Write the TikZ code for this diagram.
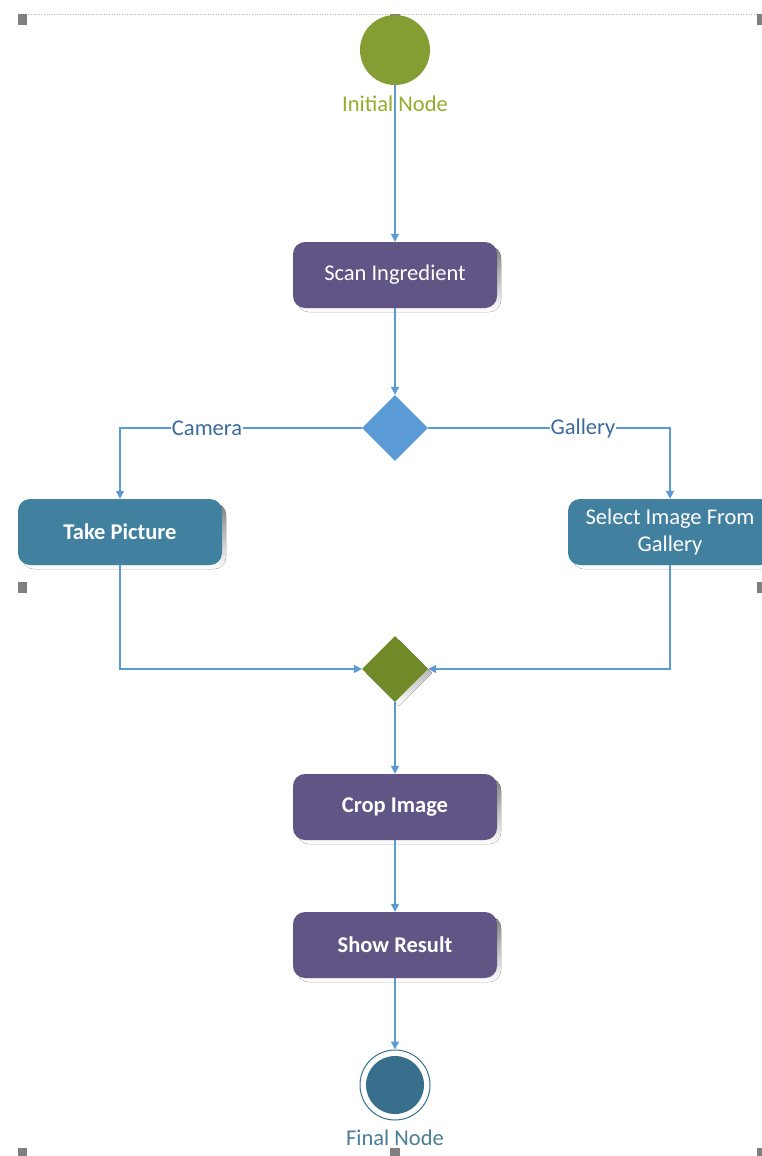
\documentclass[tikz,border=0pt]{standalone}
\usepackage{fontspec}
\setmainfont{Carlito}
\usetikzlibrary{arrows.meta,shapes.geometric}
\definecolor{flow}{HTML}{5B9BD5}
\definecolor{actpurple}{HTML}{615586}
\definecolor{actteal}{HTML}{41809F}
\definecolor{startgreen}{HTML}{849E33}
\definecolor{mergegreen}{HTML}{6F8A27}
\definecolor{endteal}{HTML}{376F8C}
\definecolor{guardblue}{HTML}{3B6A9C}
\definecolor{handle}{HTML}{7F7F7F}
\definecolor{shade}{HTML}{F5F7F6}
\newcommand{\labelfont}{\fontsize{22.5}{27}\selectfont}
\tikzset{
  act/.style={rounded corners=12pt, minimum width=204pt, minimum height=66pt,
    text=white, font=\labelfont, align=center, inner sep=0pt},
  purplebox/.style={act, fill=actpurple},
  tealbox/.style={act, fill=actteal},
  decision/.style={diamond, minimum width=66pt, minimum height=66pt, inner sep=0pt, aspect=1},
  flowline/.style={draw=flow, line width=1.4pt, -{Triangle[length=8pt,width=8pt]}},
  guard/.style={fill=white, text=guardblue, inner sep=1pt, font=\labelfont},
  grip/.style={fill=handle, draw=none},
}
\begin{document}
\begin{tikzpicture}[x=1pt,y=-1pt]
\useasboundingbox (0,0) rectangle (762,1156);
\clip (0,0) rectangle (762,1156);
\fill[white] (0,0) rectangle (762,1156);

% page frame and selection grips
\draw[handle!60, dotted, line width=0.6pt] (18,14) -- (762,14);
\fill[grip] (18,14) rectangle (27,25);
\fill[grip] (390,14) rectangle (400,25);
\fill[grip] (757,14) rectangle (762,25);
\fill[grip] (18,582) rectangle (27,593);
\fill[grip] (757,582) rectangle (762,593);
\fill[grip] (18,1148) rectangle (27,1156);
\fill[grip] (390,1148) rectangle (400,1156);
\fill[grip] (757,1148) rectangle (762,1156);

% soft shadows under the action boxes
\fill[shade, rounded corners=12pt] (297,246) rectangle (501,312);
\fill[shade, rounded corners=12pt] (22,503) rectangle (226,569);
\fill[shade, rounded corners=12pt] (572,503) rectangle (776,569);
\fill[shade, rounded corners=12pt] (297,778) rectangle (501,844);
\fill[shade, rounded corners=12pt] (297,916) rectangle (501,982);
\fill[shade] (399,640) -- (432,673) -- (399,706) -- (366,673) -- cycle;

% nodes
\node[circle, fill=startgreen, minimum size=70pt, inner sep=0pt] (start) at (395,50) {};
\node[text=startgreen!85!yellow, font=\labelfont] (startlbl) at (395,104) {Initial Node};
\node[purplebox] (scan) at (395,275) {Scan Ingredient};
\node[decision, fill=flow] (split) at (395,428) {};
\node[tealbox, font=\labelfont\bfseries] (take) at (120,532) {Take Picture};
\node[tealbox] (gallery) at (670,532) {Select Image From\\Gallery};
\node[decision, fill=mergegreen] (merge) at (395,669) {};
\node[purplebox, font=\labelfont\bfseries] (crop) at (395,807) {Crop Image};
\node[purplebox, font=\labelfont\bfseries] (show) at (395,945) {Show Result};
\node[circle, draw=endteal, line width=1pt, minimum size=70pt, inner sep=0pt] (final) at (395,1085) {};
\fill[endteal] (final.center) circle (29pt);
\node[text=endteal!90!white, font=\labelfont] (finallbl) at (395,1138) {Final Node};

% connectors
\draw[flowline] (start) -- (scan);
\draw[flowline] (scan) -- (split);
\draw[flowline] (split.west) -| node[guard, pos=0.32] {Camera} (take.north);
\draw[flowline] (split.east) -| node[guard, pos=0.32] {Gallery} (gallery.north);
\draw[flowline] (take.south) |- (merge.west);
\draw[flowline] (gallery.south) |- (merge.east);
\draw[flowline] (merge) -- (crop);
\draw[flowline] (crop) -- (show);
\draw[flowline] (show) -- (final);
\end{tikzpicture}
\end{document}
